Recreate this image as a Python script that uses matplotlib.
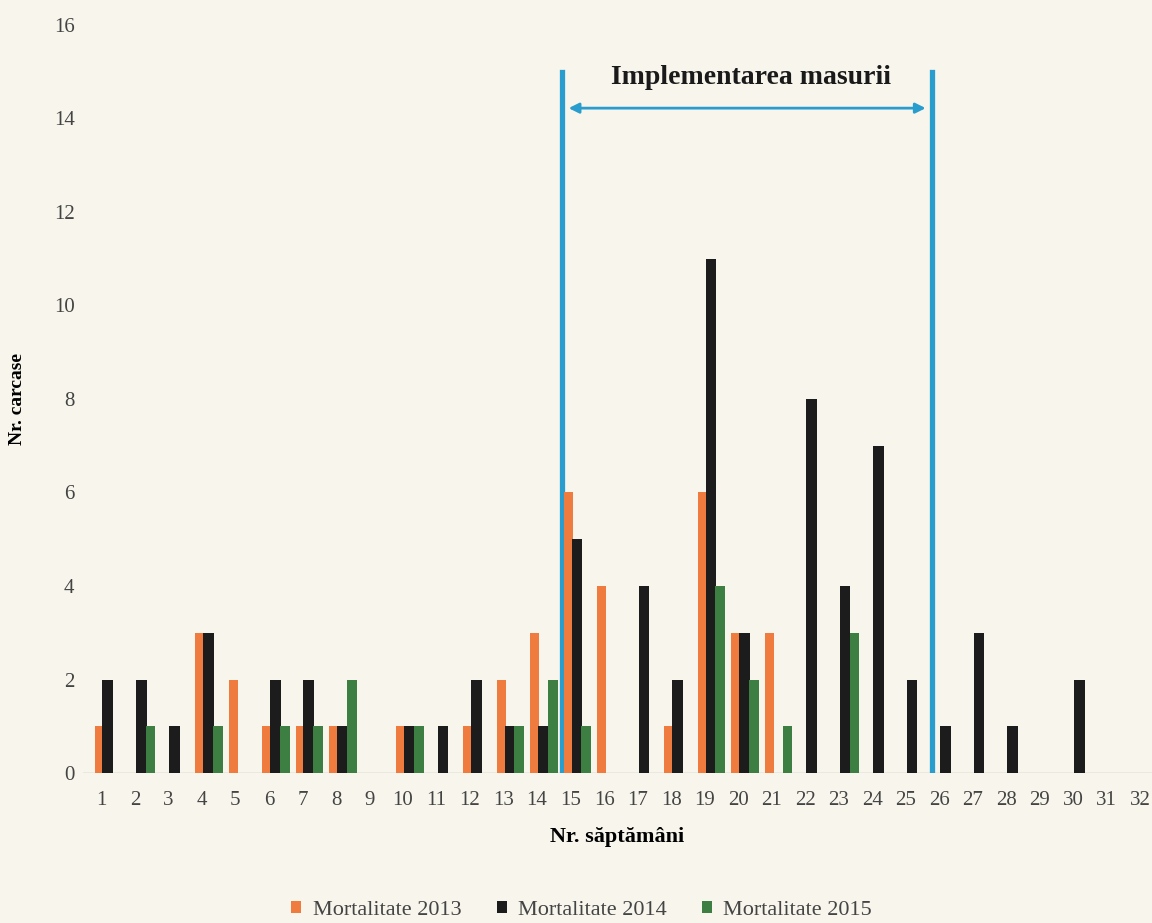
import matplotlib.pyplot as plt
import numpy as np

weeks = np.arange(1, 33)
mort_2013 = [1, 0, 0, 3, 2, 1, 1, 1, 0, 1, 0, 1, 2, 3, 6, 4,
             0, 1, 6, 3, 3, 0, 0, 0, 0, 0, 0, 0, 0, 0, 0, 0]
mort_2014 = [2, 2, 1, 3, 0, 2, 2, 1, 0, 1, 1, 2, 1, 1, 5, 0,
             4, 2, 11, 3, 0, 8, 4, 7, 2, 1, 3, 1, 0, 2, 0, 0]
mort_2015 = [0, 1, 0, 1, 0, 1, 1, 2, 0, 1, 0, 0, 1, 2, 1, 0,
             0, 0, 4, 2, 1, 0, 3, 0, 0, 0, 0, 0, 0, 0, 0, 0]
labels = ['Mortalitate 2013', 'Mortalitate 2014', 'Mortalitate 2015']
colors = ['#ef7b3e', '#1c1c1c', '#3d7f42']
measure_start, measure_end = 14.74, 25.8

plt.rcParams['font.family'] = ['Liberation Serif', 'DejaVu Serif']
bg = '#f7f5ec'

fig = plt.figure(figsize=(11.52, 9.23), dpi=100, facecolor=bg)
ax = fig.add_axes([0.072, 0.1625, 0.928, 0.8105], facecolor=bg)

offsets = [-0.07, 0.19, 0.47]
widths = [0.27, 0.32, 0.29]
for vals, off, w, c, lab in zip([mort_2013, mort_2014, mort_2015], offsets, widths, colors, labels):
    ax.bar(weeks + off, vals, width=w, color=c, label=lab, zorder=3)

ax.axhline(0, color='#b8b8b0', lw=1, zorder=2)

# measure implementation window
for xv in (measure_start, measure_end):
    ax.plot([xv, xv], [0, 15], color='#2a9dcf', lw=3.8, zorder=2.5)
ax.annotate('', xy=(measure_start + 0.12, 14.22), xytext=(measure_end - 0.12, 14.22),
            arrowprops=dict(arrowstyle='<|-|>', color='#2a9dcf', lw=2, mutation_scale=15),
            zorder=5)
ax.text((measure_start + measure_end) / 2 + 0.1, 14.88, 'Implementarea masurii',
        ha='center', va='center', fontsize=20, fontweight='bold', color='#1a1a1a')

ax.set_xlim(0.45, 32.35)
ax.set_ylim(0, 16)
ax.set_xticks(weeks)
ax.set_yticks(range(0, 17, 2))
ax.tick_params(length=0, labelsize=15, labelcolor='#444444')
ax.tick_params(axis='x', pad=13)
ax.tick_params(axis='y', pad=6)
for s in ax.spines.values():
    s.set_visible(False)

ax.set_xlabel('Nr. săptămâni', fontsize=16, fontweight='bold', labelpad=12)
ax.set_ylabel('Nr. carcase', fontsize=14, fontweight='bold', labelpad=20)

fig.legend(loc='center', bbox_to_anchor=(0.505, 0.014), ncol=3, frameon=False,
           fontsize=16, handlelength=0.45, handleheight=0.45, columnspacing=1.6,
           handletextpad=0.5, labelcolor='#444444')

plt.savefig('out.png', facecolor=bg)
